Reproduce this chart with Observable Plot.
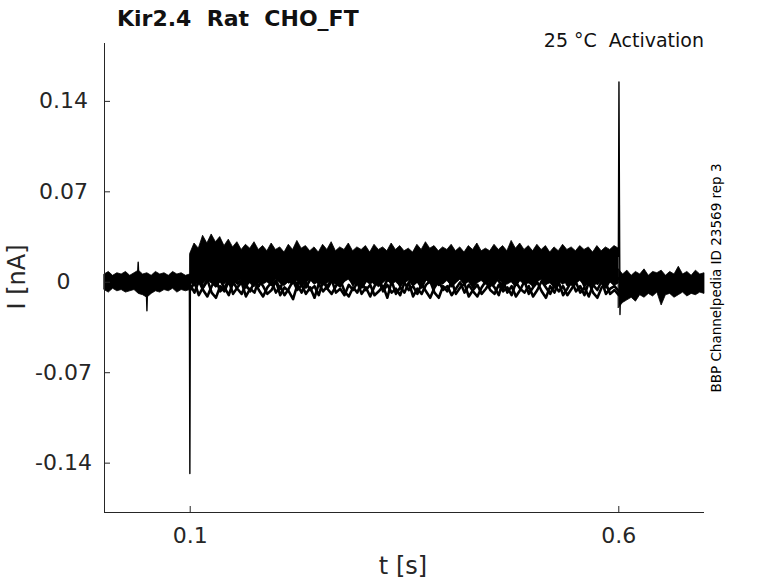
<!DOCTYPE html>
<html>
<head>
<meta charset="utf-8">
<script src="https://cdn.jsdelivr.net/npm/d3@7"></script>
<script src="https://cdn.jsdelivr.net/npm/@observablehq/plot@0.6"></script>
<style>
  html, body { margin: 0; padding: 0; background: #fff; }
</style>
</head>
<body>
<div id="chart"></div>
<script>
// ---- tick labels ----
const xTicks = [0.1, 0.6];
const yTicks = [-0.14, -0.07, 0, 0.07, 0.14];

// ---- noise envelope of the overlaid sweeps (nA), sampled every 5 ms ----
const sampleStep = 0.005;
// before the step: 0 .. 0.1 s
const preStart = 0;
const preUpper = [0.006,0.008,0.005,0.007,0.006,0.008,0.005,0.007,0.009,0.006,
                  0.007,0.005,0.008,0.006,0.007,0.005,0.008,0.006,0.007,0.005,0.006];
const preLower = [-0.006,-0.008,-0.005,-0.007,-0.006,-0.008,-0.007,-0.006,-0.009,-0.010,
                  -0.012,-0.009,-0.007,-0.008,-0.006,-0.007,-0.005,-0.008,-0.006,-0.007,-0.006];
// during the step: 0.1 .. 0.6 s  (dense upper cluster of sweeps)
const stepStart = 0.1;
const stepUpper = [0.022,0.030,0.026,0.036,0.030,0.037,0.031,0.035,0.028,0.033,
                   0.027,0.031,0.025,0.029,0.026,0.031,0.025,0.028,0.024,0.030,
                   0.025,0.027,0.023,0.029,0.025,0.032,0.026,0.028,0.024,0.027,
                   0.023,0.029,0.025,0.031,0.024,0.027,0.025,0.030,0.024,0.027,
                   0.025,0.028,0.023,0.029,0.025,0.027,0.024,0.030,0.025,0.028,
                   0.024,0.026,0.023,0.029,0.025,0.031,0.026,0.028,0.024,0.027,
                   0.025,0.029,0.024,0.027,0.023,0.028,0.025,0.030,0.024,0.026,
                   0.024,0.029,0.025,0.028,0.024,0.032,0.026,0.030,0.025,0.028,
                   0.024,0.029,0.025,0.028,0.023,0.027,0.024,0.029,0.025,0.027,
                   0.024,0.028,0.025,0.027,0.023,0.028,0.024,0.027,0.025,0.028,
                   0.026];
const stepClusterLower = [0.000,-0.003,0.001,-0.002,0.002,-0.001,-0.004,0.000,-0.002,0.001,
                   -0.003,0.000,0.002,-0.002,-0.001,-0.004,0.001,-0.002,0.000,-0.003,
                   0.002,-0.001,-0.003,0.000,-0.002,0.001,-0.004,-0.001,0.002,-0.002,
                   0.000,-0.003,-0.001,0.001,-0.002,-0.004,0.000,0.002,-0.002,-0.001,
                   -0.003,0.001,-0.002,0.000,-0.004,-0.001,0.002,-0.002,0.000,-0.003,
                   -0.001,0.001,-0.003,0.000,-0.002,0.002,-0.001,-0.004,0.000,-0.002,
                   0.001,-0.003,-0.001,0.002,-0.002,0.000,-0.004,-0.001,0.001,-0.002,
                   0.000,-0.003,0.002,-0.001,-0.002,0.000,-0.004,0.001,-0.002,-0.001,
                   -0.003,0.000,0.002,-0.002,-0.001,-0.004,0.001,-0.002,0.000,-0.003,
                   -0.001,0.001,-0.002,0.000,-0.004,-0.001,0.002,-0.002,0.000,-0.003,
                   -0.001];
// three low sweeps during the step (nA)
const stepSweepA = [-0.002,-0.008,0.001,-0.006,-0.011,-0.003,0.002,-0.007,-0.004,-0.010,
                    0.000,-0.005,-0.009,-0.002,-0.007,0.001,-0.006,-0.011,-0.004,0.000,
                    -0.008,-0.003,-0.010,-0.005,0.001,-0.006,-0.002,-0.009,-0.004,-0.012,
                    -0.001,-0.007,-0.003,0.002,-0.008,-0.005,-0.010,-0.002,-0.006,0.000,
                    -0.009,-0.004,-0.011,-0.003,0.001,-0.007,-0.002,-0.008,-0.005,-0.010,
                    0.000,-0.006,-0.003,-0.009,-0.001,-0.007,-0.012,-0.004,0.001,-0.006,
                    -0.003,-0.010,-0.005,0.000,-0.008,-0.002,-0.007,-0.011,-0.004,0.001,
                    -0.006,-0.009,-0.002,-0.007,-0.004,-0.010,0.000,-0.005,-0.008,-0.003,
                    -0.011,-0.006,0.001,-0.004,-0.009,-0.002,-0.007,-0.003,-0.010,-0.005,
                    0.000,-0.008,-0.004,-0.011,-0.002,-0.006,0.001,-0.009,-0.005,-0.003,
                    -0.007];
const stepSweepB = [-0.006,0.000,-0.010,-0.004,0.002,-0.008,-0.012,-0.003,-0.007,0.001,
                    -0.009,-0.004,0.000,-0.011,-0.005,-0.008,0.002,-0.003,-0.009,-0.006,
                    0.001,-0.010,-0.004,-0.007,-0.013,-0.002,-0.008,0.000,-0.006,-0.003,
                    -0.010,0.001,-0.005,-0.009,-0.003,0.002,-0.007,-0.011,-0.004,-0.008,
                    0.000,-0.006,-0.002,-0.010,-0.007,-0.003,-0.012,0.001,-0.009,-0.004,
                    -0.008,0.000,-0.011,-0.005,-0.009,-0.002,0.001,-0.008,-0.012,-0.003,
                    -0.007,0.001,-0.009,-0.004,-0.001,-0.011,-0.006,-0.002,-0.009,-0.005,
                    0.000,-0.004,-0.010,0.001,-0.008,-0.003,-0.011,-0.006,0.001,-0.009,
                    -0.004,0.000,-0.007,-0.012,-0.003,-0.008,0.000,-0.010,-0.005,0.001,
                    -0.007,-0.003,-0.010,0.000,-0.008,-0.012,-0.004,-0.001,-0.009,-0.006,
                    -0.010];
const stepSweepC = [0.004,-0.002,0.003,-0.004,0.001,0.005,-0.003,0.002,-0.005,0.003,
                    0.006,-0.001,0.002,-0.004,0.004,0.000,-0.003,0.003,0.005,-0.002,
                    0.001,-0.005,0.004,0.000,0.003,-0.002,0.005,-0.004,0.002,0.004,
                    -0.001,0.003,-0.005,0.001,0.004,-0.003,0.002,0.005,-0.002,0.003,
                    -0.004,0.001,0.004,-0.001,0.003,-0.005,0.002,0.000,0.004,-0.003,
                    0.003,0.005,-0.002,0.001,-0.004,0.003,0.000,0.004,-0.002,0.002,
                    0.005,-0.003,0.001,0.004,-0.001,0.003,-0.004,0.002,0.005,0.000,
                    -0.003,0.003,0.001,-0.005,0.004,0.002,-0.002,0.003,0.000,0.005,
                    -0.003,0.002,0.004,-0.001,0.003,-0.004,0.001,0.005,-0.002,0.003,
                    0.000,0.004,-0.003,0.002,0.005,-0.001,0.003,-0.004,0.002,0.001,
                    0.003];
// after the step: 0.6 .. 0.7 s
const postStart = 0.6;
const postUpper = [0.010,0.006,0.009,0.005,0.008,0.006,0.010,0.005,0.008,0.007,
                   0.009,0.005,0.008,0.006,0.012,0.006,0.008,0.005,0.009,0.006,0.007];
const postLower = [-0.020,-0.016,-0.014,-0.012,-0.015,-0.010,-0.012,-0.009,-0.011,-0.008,
                   -0.018,-0.010,-0.009,-0.012,-0.010,-0.008,-0.011,-0.009,-0.010,-0.008,-0.009];

// ---- fast transients (capacitive spikes, single noise spikes) ----
const spikeId = ["a","a","a", "b","b","b", "c","c","c","c", "d","d","d","d","d"];
const spikeT  = [0.0385,0.0393,0.0401, 0.0488,0.0495,0.0502, 0.0990,0.0996,0.1003,0.1010, 0.5995,0.6002,0.6008,0.6014,0.6020];
const spikeI  = [0.004,0.0155,0.003, -0.006,-0.022,-0.005, 0.002,-0.148,0.021,0.012, 0.020,0.155,0.060,-0.025,-0.008];

// ---- build tables ----
const band = [];
function addSegment(name, start, upper, lower) {
  upper.forEach((hi, k) => band.push({seg: name, t: start + k * sampleStep, hi, lo: lower[k]}));
}
addSegment("pre", preStart, preUpper, preLower);
addSegment("step", stepStart, stepUpper, stepClusterLower);
addSegment("post", postStart, postUpper, postLower);

const sweeps = [];
[["A", stepSweepA], ["B", stepSweepB], ["C", stepSweepC]].forEach(([id, vals]) =>
  vals.forEach((v, k) => sweeps.push({id, t: stepStart + k * sampleStep, i: v})));

const spikes = spikeT.map((t, k) => ({id: spikeId[k], t, i: spikeI[k]}));

const W = 778, H = 583;
const mL = 104, mR = 74, mT = 43, mB = 71;
const xDomain = [0, 0.7], yDomain = [-0.1782, 0.1848];
const axisColor = "#262626";

const svg = Plot.plot({
  width: W, height: H,
  marginLeft: mL, marginRight: mR, marginTop: mT, marginBottom: mB,
  style: {fontFamily: "DejaVu Sans", background: "#fff", color: axisColor},
  x: {domain: xDomain},
  y: {domain: yDomain},
  marks: [
    Plot.areaY(band, {x: "t", y1: "lo", y2: "hi", z: "seg", fill: "black", stroke: "black", strokeWidth: 0.8}),
    Plot.line(sweeps, {x: "t", y: "i", z: "id", stroke: "black", strokeWidth: 2.6}),
    Plot.line(spikes, {x: "t", y: "i", z: "id", stroke: "black", strokeWidth: 1.4}),
    Plot.ruleX([xDomain[0]], {stroke: axisColor}),
    Plot.ruleY([yDomain[0]], {stroke: axisColor}),
    Plot.tickY(yTicks, {y: d => d, insetRight: (W - mL - mR) - 6, stroke: axisColor}),
    Plot.tickX(xTicks, {x: d => d, insetTop: (H - mT - mB) - 6, stroke: axisColor}),
    Plot.axisY(yTicks, {anchor: "left", tickSize: 0, tickPadding: 41, textAnchor: "middle",
      tickFormat: d => String(d), fontSize: 22, fill: axisColor, label: null}),
    Plot.axisX(xTicks, {anchor: "bottom", tickSize: 0, tickPadding: 15,
      tickFormat: d => String(d), fontSize: 22, fill: axisColor, label: null})
  ]
});

const s = d3.select(svg);
s.append("text").attr("x", 117).attr("y", 26).attr("text-anchor", "start")
  .attr("font-family", "DejaVu Sans").attr("font-weight", "bold").attr("font-size", 22)
  .attr("fill", "#111").text("Kir2.4  Rat  CHO_FT");
s.append("text").attr("x", 704).attr("y", 47).attr("text-anchor", "end")
  .attr("font-family", "DejaVu Sans").attr("font-size", 19)
  .attr("fill", "#111").text("25 °C  Activation");
s.append("text").attr("transform", "translate(25,277) rotate(-90)").attr("text-anchor", "middle")
  .attr("font-family", "DejaVu Sans").attr("font-size", 24)
  .attr("fill", axisColor).text("I [nA]");
s.append("text").attr("x", 403).attr("y", 574).attr("text-anchor", "middle")
  .attr("font-family", "DejaVu Sans").attr("font-size", 24)
  .attr("fill", axisColor).text("t [s]");
s.append("text").attr("transform", "translate(721,278) rotate(-90)").attr("text-anchor", "middle")
  .attr("font-family", "DejaVu Sans").attr("font-size", 13.5)
  .attr("fill", "#000").text("BBP Channelpedia ID 23569 rep 3");

document.getElementById("chart").appendChild(svg);
</script>
</body>
</html>
